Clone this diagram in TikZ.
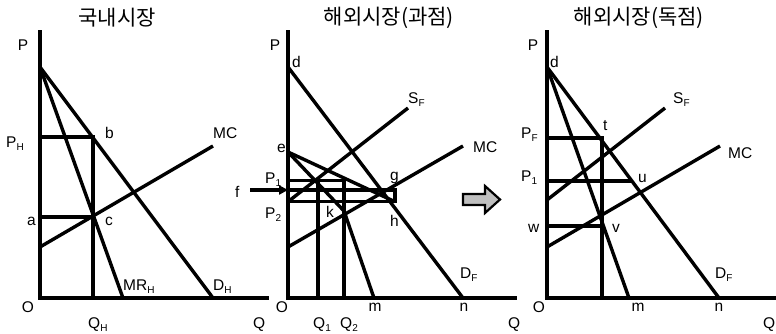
\documentclass[tikz,border=0pt]{standalone}
\usepackage{fontspec}
\setmainfont{Liberation Sans}
\newfontfamily\krfont{Noto Sans CJK KR}
\usetikzlibrary{arrows.meta}
\newcommand\sbs[1]{\raisebox{-3.5pt}{\fontsize{10}{10}\selectfont #1}}
\begin{document}
\begin{tikzpicture}[x=1pt,y=-1pt,
  axis/.style={line width=4pt},
  curve/.style={line width=3.4pt},
  guide/.style={line width=3.2pt},
  lbl/.style={inner sep=0pt, font={\fontsize{15.5}{15.5}\selectfont}, anchor=base west},
  lblc/.style={inner sep=0pt, font={\fontsize{15.5}{15.5}\selectfont}, anchor=base},
  ttl/.style={inner sep=0pt, font={\fontsize{21}{21}\selectfont\krfont}},
  bigarrow/.style={draw=black, line width=2.2pt, fill=black!25, line join=miter}]
\useasboundingbox (0,0) rectangle (776,333);

% ---------- Panel 1 ----------
\coordinate (T1) at (40,30);
\coordinate (O1) at (40,298);
\coordinate (X1) at (269,298);
\coordinate (A1) at (40,67);
\coordinate (DH) at (213,298);
\coordinate (MRH) at (123,298);
\coordinate (PH) at (40,137);
\coordinate (b) at (93,137);
\coordinate (QH) at (93,298);
\coordinate (MCa1) at (40,247);
\coordinate (MCb1) at (213,146);
\coordinate (a) at (40,217);
\coordinate (c) at (93,217);

\draw[axis] (T1) -- (O1) -- (X1);
\draw[curve] (A1) -- (DH);
\draw[curve] (A1) -- (MRH);
\draw[curve] (MCa1) -- (MCb1);
\draw[guide] (PH) -- (b) -- (QH);
\draw[guide] (a) -- (c);

\node[ttl] (title1) at (117,17.5) {국내시장};
\node[lblc] (P1lbl) at (23,50) {P};
\node[lbl] (PHlbl) at (6,147) {P\sbs{H}};
\node[lbl] (blbl) at (105,138) {b};
\node[lbl] (MC1lbl) at (213,138) {MC};
\node[lbl] (albl) at (27,225) {a};
\node[lbl] (clbl) at (105,225) {c};
\node[lbl] (MRHlbl) at (123,290) {MR\sbs{H}};
\node[lbl] (DHlbl) at (213,290) {D\sbs{H}};
\node[lblc] (O1lbl) at (28,312) {O};
\node[lbl] (QHlbl) at (88,328) {Q\sbs{H}};
\node[lbl] (Q1axlbl) at (253,328) {Q};

% ---------- Panel 2 ----------
\coordinate (T2) at (288,30);
\coordinate (O2) at (288,298);
\coordinate (X2) at (517,298);
\coordinate (d2) at (288,67);
\coordinate (n2) at (463,298);
\coordinate (e) at (288,152);
\coordinate (k) at (344,211);
\coordinate (m2) at (374,298);
\coordinate (SFa2) at (288,201.7);
\coordinate (SFb2) at (408,108);
\coordinate (MCa2) at (288,247);
\coordinate (MCb2) at (463,146);
\coordinate (P1a) at (288,180.7);
\coordinate (Q2t) at (344,180.7);
\coordinate (Q2b) at (344,298);
\coordinate (Q1t) at (318,180.7);
\coordinate (Q1b) at (318,298);
\coordinate (f) at (250,190);
\coordinate (fa) at (288,190);
\coordinate (g) at (395,190);
\coordinate (h) at (395,201.7);
\coordinate (P2a) at (288,201.7);

\draw[axis] (T2) -- (O2) -- (X2);
\draw[curve] (d2) -- (n2);
\draw[curve] (e) -- (h);
\draw[curve] (e) -- (k) -- (m2);
\draw[curve] (SFa2) -- (SFb2);
\draw[curve] (MCa2) -- (MCb2);
\draw[guide] (P1a) -- (Q2t) -- (Q2b);
\draw[guide] (Q1t) -- (Q1b);
\draw[guide] (fa) -- (g) -- (h) -- (P2a);
\draw[guide,-{Triangle[length=9pt,width=9pt]}] (f) -- (fa);

\node[ttl] (title2) at (389,18) {해외시장(과점)};
\node[lblc] (P2lbl) at (275,50) {P};
\node[lbl] (dlbl2) at (292,67) {d};
\node[lbl] (SF2lbl) at (408,103) {S\sbs{F}};
\node[lbl] (elbl) at (277,152) {e};
\node[lbl] (MC2lbl) at (473,152) {MC};
\node[lbl] (P12lbl) at (265,183) {P\sbs{1}};
\node[lbl] (flbl) at (235,197) {f};
\node[lbl] (glbl) at (390,180) {g};
\node[lbl] (P22lbl) at (265,218) {P\sbs{2}};
\node[lbl] (klbl) at (326,217) {k};
\node[lbl] (hlbl) at (390,226) {h};
\node[lbl] (DF2lbl) at (460,278) {D\sbs{F}};
\node[lblc] (O2lbl) at (282,312) {O};
\node[lblc] (m2lbl) at (375,311) {m};
\node[lblc] (n2lbl) at (464,311) {n};
\node[lbl] (Q12lbl) at (313,328) {Q\sbs{1}};
\node[lbl] (Q22lbl) at (340,328) {Q\sbs{2}};
\node[lbl] (Q2axlbl) at (508,328) {Q};

% ---------- big arrow ----------
\draw[bigarrow] (463,194) -- (485,194) -- (485,186) -- (500,199.5) -- (485,213) -- (485,205) -- (463,205) -- cycle;

% ---------- Panel 3 ----------
\coordinate (T3) at (547,30);
\coordinate (O3) at (547,298);
\coordinate (X3) at (776,298);
\coordinate (d3) at (547,67);
\coordinate (n3) at (719,298);
\coordinate (m3) at (629,298);
\coordinate (PFa) at (547,138);
\coordinate (t) at (602,138);
\coordinate (tb) at (602,298);
\coordinate (P1b) at (547,181);
\coordinate (u) at (631,181);
\coordinate (wa) at (547,226);
\coordinate (v) at (602,226);
\coordinate (SFa3) at (547,200);
\coordinate (SFb3) at (665,108);
\coordinate (MCa3) at (547,247);
\coordinate (MCb3) at (720,146);

\draw[axis] (T3) -- (O3) -- (X3);
\draw[curve] (d3) -- (n3);
\draw[curve] (d3) -- (m3);
\draw[curve] (SFa3) -- (SFb3);
\draw[curve] (MCa3) -- (MCb3);
\draw[guide] (PFa) -- (t) -- (tb);
\draw[guide] (P1b) -- (u);
\draw[guide] (wa) -- (v);

\node[ttl] (title3) at (639,18) {해외시장(독점)};
\node[lblc] (P3lbl) at (533,50) {P};
\node[lbl] (dlbl3) at (550,67) {d};
\node[lbl] (SF3lbl) at (673,103) {S\sbs{F}};
\node[lbl] (tlbl) at (603,130) {t};
\node[lbl] (PFlbl) at (521,138) {P\sbs{F}};
\node[lbl] (MC3lbl) at (728,158) {MC};
\node[lbl] (P13lbl) at (521,181) {P\sbs{1}};
\node[lbl] (ulbl) at (638,182) {u};
\node[lbl] (wlbl) at (528,232) {w};
\node[lbl] (vlbl) at (612,232) {v};
\node[lbl] (DF3lbl) at (715,278) {D\sbs{F}};
\node[lblc] (O3lbl) at (539,312) {O};
\node[lblc] (m3lbl) at (638,311) {m};
\node[lblc] (n3lbl) at (719,311) {n};
\node[lbl] (Q3axlbl) at (763,328) {Q};
\end{tikzpicture}
\end{document}
